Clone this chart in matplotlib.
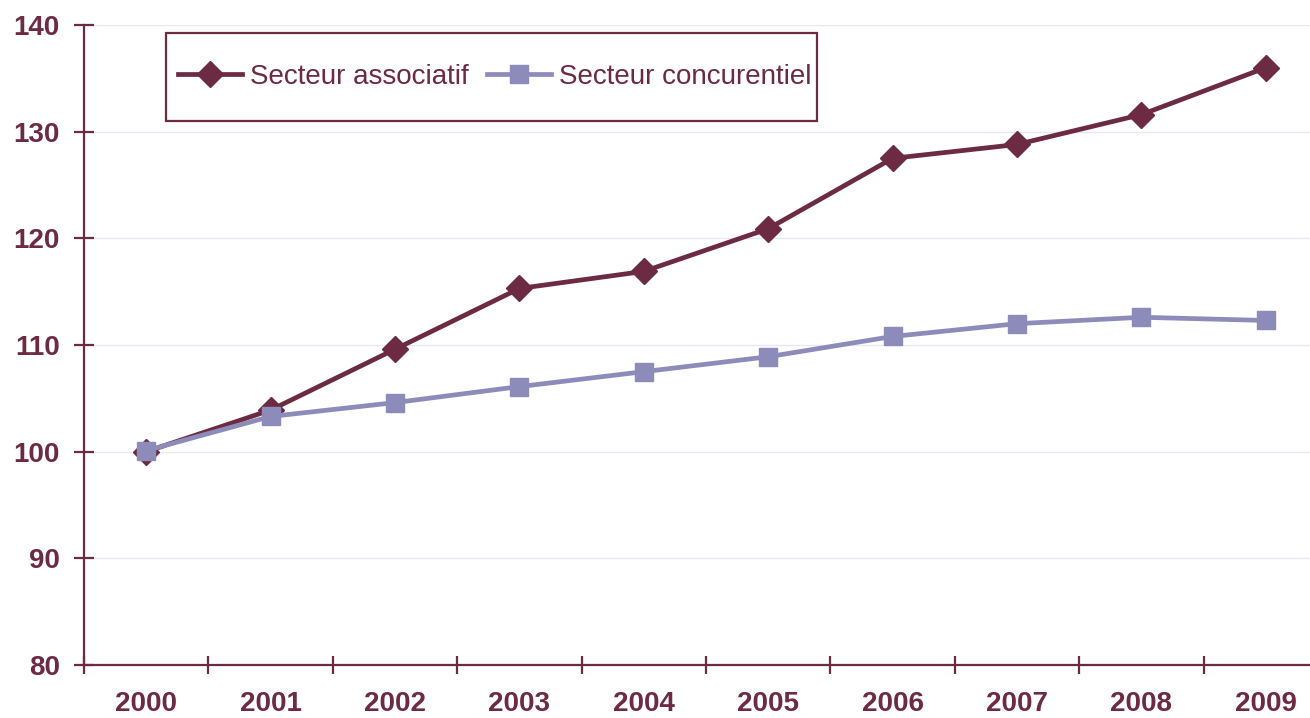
import numpy as np
import matplotlib
matplotlib.use("Agg")
import matplotlib.pyplot as plt
from matplotlib.patches import Rectangle

# ── Data ──────────────────────────────────────────────────────────────────────
years = ["2000", "2001", "2002", "2003", "2004", "2005", "2006", "2007", "2008", "2009"]
associatif = [100.0, 103.9, 109.6, 115.3, 116.9, 120.9, 127.5, 128.8, 131.6, 136.0]
concurrentiel = [100.1, 103.3, 104.6, 106.1, 107.5, 108.9, 110.8, 112.0, 112.6, 112.3]

MAROON = "#6C2A43"
LAVENDER = "#8D8BB9"
GRID = "#E8E8F2"

W, H = 1310, 718
plt.rcParams["font.family"] = ["Liberation Sans", "DejaVu Sans"]

fig = plt.figure(figsize=(W / 100, H / 100), dpi=100)
ax = fig.add_axes([84 / W, 53 / H, 1244 / W, 640 / H])

x = np.arange(len(years))
ax.plot(x, associatif, color=MAROON, lw=3.4, marker="D", ms=13,
        label="Secteur associatif", zorder=3)
ax.plot(x, concurrentiel, color=LAVENDER, lw=3.4, marker="s", ms=13,
        label="Secteur concurentiel", zorder=4)

ax.set_xlim(-0.5, len(years) - 0.5)
ax.set_ylim(80, 140)
ax.set_yticks(range(80, 141, 10))
ax.grid(axis="y", color=GRID, lw=1)
ax.set_axisbelow(True)

for side in ("top", "right"):
    ax.spines[side].set_visible(False)
for side in ("left", "bottom"):
    ax.spines[side].set_color(MAROON)
    ax.spines[side].set_linewidth(1.6)

# labels centred on categories, tick marks at category boundaries
ax.set_xticks(x)
ax.set_xticklabels(years)
ax.set_xticks(np.arange(-0.5, len(years), 1.0), minor=True)
ax.tick_params(axis="x", which="major", length=0, pad=19,
               labelsize=20, labelcolor=MAROON)
ax.tick_params(axis="x", which="minor", direction="inout", length=13,
               width=1.6, color=MAROON)
ax.tick_params(axis="y", direction="inout", length=15, width=1.6,
               color=MAROON, pad=10, labelsize=20, labelcolor=MAROON)
for lab in ax.get_xticklabels() + ax.get_yticklabels():
    lab.set_fontweight("bold")

# legend: entries without frame, box drawn separately
leg = ax.legend(loc="center left", bbox_to_anchor=(178 / W, 1 - 77 / H),
                bbox_transform=fig.transFigure, ncol=2, fontsize=20,
                frameon=False, borderpad=0, borderaxespad=0,
                handlelength=2.3, handletextpad=0.3,
                columnspacing=0.65, labelcolor=MAROON)
fig.patches.append(Rectangle((166 / W, 1 - 121 / H), (817 - 166) / W, 88 / H,
                             transform=fig.transFigure, fill=False,
                             edgecolor=MAROON, lw=1.6, zorder=5))

fig.savefig("out.png", dpi=100, facecolor="white")
